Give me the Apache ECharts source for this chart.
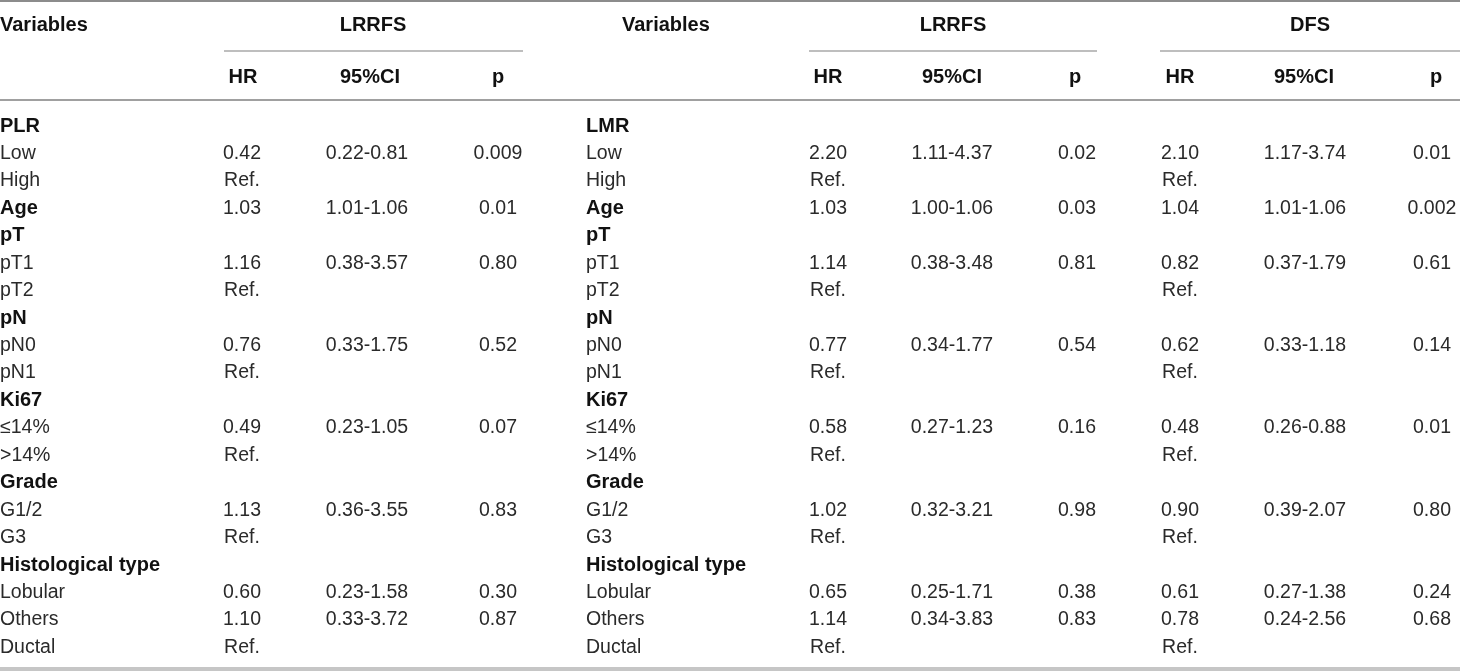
<!DOCTYPE html>
<html>
<head>
<meta charset="utf-8">
<script src="https://cdn.jsdelivr.net/npm/echarts@6/dist/echarts.min.js"></script>
<style>
  html, body { margin: 0; padding: 0; background: #fff; }
  #chart { width: 1460px; height: 672px; }
</style>
</head>
<body>
<div id="chart"></div>
<script>
// row labels (left model: PLR, right models: LMR)
const plrLabels = ['PLR', 'Low', 'High', 'Age', 'pT', 'pT1', 'pT2', 'pN', 'pN0', 'pN1',
  'Ki67', '≤14%', '>14%', 'Grade', 'G1/2', 'G3', 'Histological type', 'Lobular', 'Others', 'Ductal'];
const lmrLabels = ['LMR', 'Low', 'High', 'Age', 'pT', 'pT1', 'pT2', 'pN', 'pN0', 'pN1',
  'Ki67', '≤14%', '>14%', 'Grade', 'G1/2', 'G3', 'Histological type', 'Lobular', 'Others', 'Ductal'];
const groupRows = [0, 3, 4, 7, 10, 13, 16];

// PLR model, LRRFS
const plrLrrfsHR = [null, '0.42', 'Ref.', '1.03', null, '1.16', 'Ref.', null, '0.76', 'Ref.',
  null, '0.49', 'Ref.', null, '1.13', 'Ref.', null, '0.60', '1.10', 'Ref.'];
const plrLrrfsCI = [null, '0.22-0.81', null, '1.01-1.06', null, '0.38-3.57', null, null, '0.33-1.75', null,
  null, '0.23-1.05', null, null, '0.36-3.55', null, null, '0.23-1.58', '0.33-3.72', null];
const plrLrrfsP = [null, '0.009', null, '0.01', null, '0.80', null, null, '0.52', null,
  null, '0.07', null, null, '0.83', null, null, '0.30', '0.87', null];

// LMR model, LRRFS
const lmrLrrfsHR = [null, '2.20', 'Ref.', '1.03', null, '1.14', 'Ref.', null, '0.77', 'Ref.',
  null, '0.58', 'Ref.', null, '1.02', 'Ref.', null, '0.65', '1.14', 'Ref.'];
const lmrLrrfsCI = [null, '1.11-4.37', null, '1.00-1.06', null, '0.38-3.48', null, null, '0.34-1.77', null,
  null, '0.27-1.23', null, null, '0.32-3.21', null, null, '0.25-1.71', '0.34-3.83', null];
const lmrLrrfsP = [null, '0.02', null, '0.03', null, '0.81', null, null, '0.54', null,
  null, '0.16', null, null, '0.98', null, null, '0.38', '0.83', null];

// LMR model, DFS
const lmrDfsHR = [null, '2.10', 'Ref.', '1.04', null, '0.82', 'Ref.', null, '0.62', 'Ref.',
  null, '0.48', 'Ref.', null, '0.90', 'Ref.', null, '0.61', '0.78', 'Ref.'];
const lmrDfsCI = [null, '1.17-3.74', null, '1.01-1.06', null, '0.37-1.79', null, null, '0.33-1.18', null,
  null, '0.26-0.88', null, null, '0.39-2.07', null, null, '0.27-1.38', '0.24-2.56', null];
const lmrDfsP = [null, '0.01', null, '0.002', null, '0.61', null, null, '0.14', null,
  null, '0.01', null, null, '0.80', null, null, '0.24', '0.68', null];

const subHeaders = ['HR', '95%CI', 'p'];

// layout (pixel-like units on hidden value axes)
const FONT = '"Liberation Sans", Arial, Helvetica, sans-serif';
const rowY = i => 126 + i * 27.45;
const headY1 = 25, headY2 = 77;

const blocks = [
  { title: 'LRRFS', titleX: 373, varX: 0, labelX: 0, labels: plrLabels,
    cols: [242, 367, 498], headCols: [243, 370, 498], line: [224, 523],
    values: [plrLrrfsHR, plrLrrfsCI, plrLrrfsP] },
  { title: 'LRRFS', titleX: 953, varX: 622, labelX: 586, labels: lmrLabels,
    cols: [828, 952, 1077], headCols: [828, 952, 1075], line: [809, 1097],
    values: [lmrLrrfsHR, lmrLrrfsCI, lmrLrrfsP] },
  { title: 'DFS', titleX: 1310, labels: null,
    cols: [1180, 1305, 1432], headCols: [1180, 1304, 1436], line: [1160, 1460],
    values: [lmrDfsHR, lmrDfsCI, lmrDfsP] }
];

// build text cells
const cells = [];
blocks.forEach(b => {
  if (b.labels) {
    cells.push({ x: b.varX, y: headY1, text: 'Variables', bold: true, align: 'left' });
    b.labels.forEach((t, i) => {
      cells.push({ x: b.labelX, y: rowY(i), text: t, bold: groupRows.includes(i), align: 'left' });
    });
  }
  cells.push({ x: b.titleX, y: headY1, text: b.title, bold: true, align: 'center' });
  subHeaders.forEach((h, k) => {
    cells.push({ x: b.headCols[k], y: headY2, text: h, bold: true, align: 'center' });
  });
  b.values.forEach((arr, k) => {
    arr.forEach((v, i) => {
      if (v !== null) cells.push({ x: b.cols[k], y: rowY(i), text: v, bold: false, align: 'center' });
    });
  });
});

// table rules
const rules = [
  { x1: 0, x2: 1460, y: 1, w: 2, c: '#8c8c8c' },
  { x1: 0, x2: 1460, y: 100, w: 2, c: '#a0a0a0' },
  { x1: 0, x2: 1460, y: 669, w: 4, c: '#c6c6c6' }
];
blocks.forEach(b => rules.push({ x1: b.line[0], x2: b.line[1], y: 51, w: 1.5, c: '#a8a8a8' }));

const chart = echarts.init(document.getElementById('chart'), null, { renderer: 'canvas' });
chart.setOption({
  animation: false,
  grid: { left: 0, right: 0, top: 0, bottom: 0 },
  xAxis: { type: 'value', min: 0, max: 1460, show: false },
  yAxis: { type: 'value', min: 0, max: 672, inverse: true, show: false },
  series: [
    {
      type: 'custom',
      data: rules.map(r => [r.x1, r.y, r.x2]),
      renderItem: (params, api) => {
        const r = rules[params.dataIndex];
        const p1 = api.coord([api.value(0), api.value(1)]);
        const p2 = api.coord([api.value(2), api.value(1)]);
        return {
          type: 'line',
          shape: { x1: p1[0], y1: p1[1], x2: p2[0], y2: p2[1] },
          style: { stroke: r.c, lineWidth: r.w }
        };
      }
    },
    {
      type: 'custom',
      data: cells.map(c => [c.x, c.y]),
      renderItem: (params, api) => {
        const c = cells[params.dataIndex];
        const p = api.coord([api.value(0), api.value(1)]);
        return {
          type: 'text',
          x: p[0],
          y: p[1],
          style: {
            text: c.text,
            fill: c.bold ? '#111' : '#2a2a2a',
            font: (c.bold ? 'bold 20px ' : '19.5px ') + FONT,
            align: c.align,
            verticalAlign: 'middle'
          }
        };
      }
    }
  ]
});
</script>
</body>
</html>
